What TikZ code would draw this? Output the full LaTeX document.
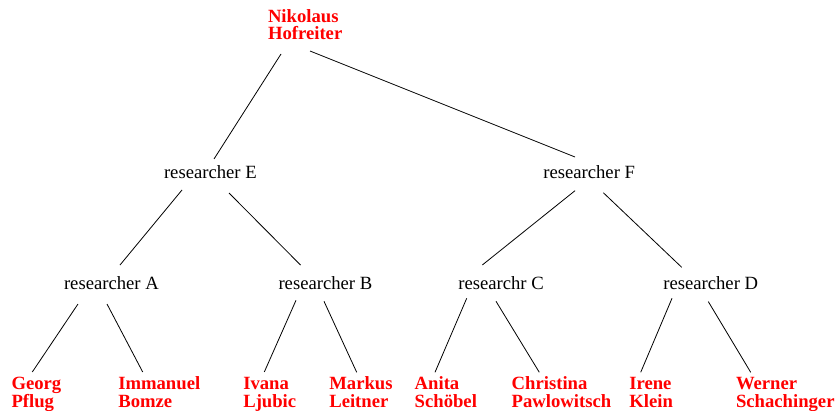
\documentclass[tikz,border=0pt]{standalone}
\usepackage{fontspec}
\setmainfont{Liberation Serif}
\usetikzlibrary{calc}

\tikzset{
  role/.style={anchor=base west, inner sep=0pt, outer sep=0pt,
    font=\fontsize{14pt}{13pt}\selectfont},
  % two-line names: the base anchor sits on the second line
  person/.style={anchor=base west, inner sep=0pt, outer sep=0pt, align=left,
    text=red, font=\fontsize{14pt}{12.5pt}\selectfont\bfseries},
  leaf/.style={person, font=\fontsize{14pt}{13.5pt}\selectfont\bfseries},
  link/.style={draw=black, line width=0.6pt}
}

\begin{document}
\begin{tikzpicture}[x=0.75pt, y=-0.75pt]
  \fill[white] (0,0) rectangle (837,410);
  \useasboundingbox (0,0) rectangle (837,410);

  % head of the group
  \node[person] (R) at (268,39.3) {Nikolaus\\Hofreiter};

  % second level
  \node[role] (E) at (164,178.3) {researcher E};
  \node[role] (F) at (543.3,178.3) {researcher F};

  % third level
  \node[role] (A) at (64,289.3) {researcher A};
  \node[role] (B) at (278.5,289.3) {researcher B};
  \node[role] (C) at (458.3,289.3) {researchr C};
  \node[role] (D) at (663.3,289.3) {researcher D};

  % leaves
  \node[leaf] (P1) at (11.5,407.5)  {Georg\\Pflug};
  \node[leaf] (P2) at (118.3,407.5) {Immanuel\\Bomze};
  \node[leaf] (P3) at (243.3,407.5) {Ivana\\Ljubic};
  \node[leaf] (P4) at (329.3,407.5) {Markus\\Leitner};
  \node[leaf] (P5) at (414.7,407.5) {Anita\\Schöbel};
  \node[leaf] (P6) at (511.7,407.5) {Christina\\Pawlowitsch};
  \node[leaf] (P7) at (629.3,407.5) {Irene\\Klein};
  \node[leaf] (P8) at (736,407.5)   {Werner\\Schachinger};

  % connectors
  \draw[link] ($(R.base west)+(13,14.7)$) -- ($(E.base west)+(50,-19.3)$);
  \draw[link] ($(R.base west)+(42,11.7)$) -- ($(F.base west)+(31.7,-21.3)$);

  \draw[link] ($(E.base west)+(18,11.7)$) -- ($(A.base west)+(56,-24.3)$);
  \draw[link] ($(E.base west)+(65,14.7)$) -- ($(B.base west)+(22,-24.3)$);
  \draw[link] ($(F.base west)+(31.7,12.4)$) -- ($(C.base west)+(24,-24.3)$);
  \draw[link] ($(F.base west)+(60,14.4)$) -- ($(D.base west)+(18.4,-22)$);

  \draw[link] ($(A.base west)+(14,14.7)$) -- ($(P1.base west)+(20.8,-35.5)$);
  \draw[link] ($(A.base west)+(43,14.7)$) -- ($(P2.base west)+(24.4,-35.5)$);
  \draw[link] ($(B.base west)+(17.5,11)$) -- ($(P3.base west)+(21,-35.5)$);
  \draw[link] ($(B.base west)+(45.5,12)$) -- ($(P4.base west)+(27.4,-35.2)$);
  \draw[link] ($(C.base west)+(8.4,9)$) -- ($(P5.base west)+(20.3,-35.2)$);
  \draw[link] ($(C.base west)+(37.7,12)$) -- ($(P6.base west)+(27.6,-35.2)$);
  \draw[link] ($(D.base west)+(8.7,9)$) -- ($(P7.base west)+(11.4,-35.2)$);
  \draw[link] ($(D.base west)+(45,12.3)$) -- ($(P8.base west)+(14.7,-35.2)$);
\end{tikzpicture}
\end{document}
